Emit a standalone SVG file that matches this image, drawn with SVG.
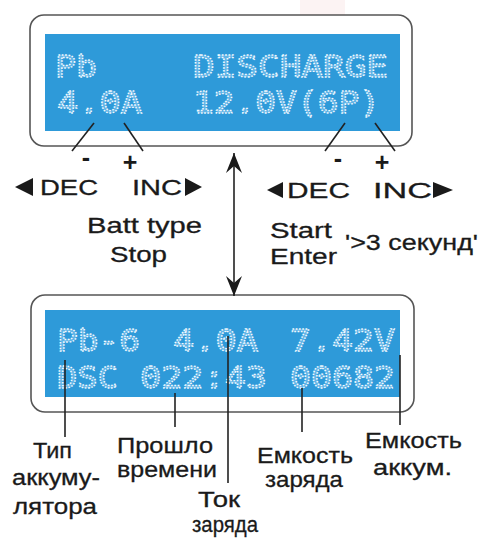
<svg xmlns="http://www.w3.org/2000/svg" width="483" height="539" viewBox="0 0 483 539">
<defs>
<style>
.frame{fill:#fff;stroke:#555;stroke-width:1.6}
.lcd{fill:#2e9ad9}
.lt{font-family:"DejaVu Sans Mono","Liberation Mono",monospace;font-size:31px;fill:#5fb3e6;stroke:#f2f9fe;stroke-width:1.4;stroke-dasharray:1.5 1.4}
.lbl{font-family:"Liberation Sans",Arial,sans-serif;font-size:22px;fill:#1a1a1a;stroke:#1a1a1a;stroke-width:0.3}
.key{font-family:"Liberation Sans",Arial,sans-serif;font-size:22px;fill:#1a1a1a;stroke:#1a1a1a;stroke-width:0.3}
.pm{font-family:"Liberation Sans",Arial,sans-serif;font-size:25px;font-weight:bold;fill:#1a1a1a;text-anchor:middle}
.ld{stroke:#222;stroke-width:1.6;fill:none}
.tri{fill:#1a1a1a}
</style>
<marker id="dart" viewBox="-22 -9 24 18" markerWidth="24" markerHeight="18" refX="0" refY="0" orient="auto-start-reverse" markerUnits="userSpaceOnUse">
<path d="M0,0 L-20,-8 L-13,0 L-20,8 Z" fill="#1a1a1a"/>
</marker>
</defs>
<rect x="300" y="0" width="45" height="70" fill="#fbeeee" opacity="0.7"/>
<g id="display-top">
<rect class="frame" x="30" y="15" width="382" height="131" rx="14"/>
<rect class="lcd" x="45" y="34" width="355" height="97"/>
<text class="lt" x="55" y="77" textLength="42" lengthAdjust="spacingAndGlyphs">Pb</text>
<text class="lt" x="193" y="77" textLength="195" lengthAdjust="spacingAndGlyphs">DISCHARGE</text>
<text class="lt" x="57" y="113" textLength="85" lengthAdjust="spacingAndGlyphs">4.0A</text>
<text class="lt" x="193" y="113" textLength="187" lengthAdjust="spacingAndGlyphs">12.0V(6P)</text>
</g>
<g id="display-bottom">
<rect class="frame" x="31" y="295" width="383" height="117" rx="14"/>
<rect class="lcd" x="45" y="310" width="355" height="87"/>
<text class="lt" x="57" y="351" textLength="83" lengthAdjust="spacingAndGlyphs">Pb-6</text>
<text class="lt" x="173" y="351" textLength="85" lengthAdjust="spacingAndGlyphs">4.0A</text>
<text class="lt" x="290" y="351" textLength="105" lengthAdjust="spacingAndGlyphs">7.42V</text>
<text class="lt" x="57" y="388" textLength="61" lengthAdjust="spacingAndGlyphs">DSC</text>
<text class="lt" x="140" y="388" textLength="127" lengthAdjust="spacingAndGlyphs">022:43</text>
<text class="lt" x="290" y="388" textLength="105" lengthAdjust="spacingAndGlyphs">00682</text>
</g>
<g id="connectors">
<line class="ld" x1="94" y1="123" x2="72" y2="151"/>
<line class="ld" x1="124" y1="123" x2="143" y2="151"/>
<line class="ld" x1="345" y1="123" x2="325" y2="151"/>
<line class="ld" x1="375" y1="123" x2="395" y2="151"/>
<line class="ld" x1="234" y1="153" x2="234" y2="296" marker-start="url(#dart)" marker-end="url(#dart)"/>
<line class="ld" x1="65" y1="360" x2="65" y2="437"/>
<line class="ld" x1="175" y1="393" x2="175" y2="427"/>
<line class="ld" x1="228" y1="336" x2="228" y2="483"/>
<line class="ld" x1="302" y1="388" x2="302" y2="432"/>
<line class="ld" x1="400" y1="355" x2="400" y2="425"/>
</g>
<g id="keys-left">
<text class="pm" x="86" y="166">-</text>
<text class="pm" x="130" y="171">+</text>
<polygon class="tri" points="15,187 33,178 33,196"/>
<text class="key" x="40" y="195" textLength="58" lengthAdjust="spacingAndGlyphs">DEC</text>
<text class="key" x="132" y="195" textLength="50" lengthAdjust="spacingAndGlyphs">INC</text>
<polygon class="tri" points="185,178 185,196 202,187"/>
<text class="lbl" x="87" y="233" textLength="115" lengthAdjust="spacingAndGlyphs">Batt type</text>
<text class="lbl" x="110" y="262" textLength="57" lengthAdjust="spacingAndGlyphs">Stop</text>
</g>
<g id="keys-right">
<text class="pm" x="338" y="167">-</text>
<text class="pm" x="382" y="171">+</text>
<polygon class="tri" points="267,190 283,182 283,198"/>
<text class="key" x="287" y="198" textLength="63" lengthAdjust="spacingAndGlyphs">DEC</text>
<text class="key" x="373" y="198" textLength="59" lengthAdjust="spacingAndGlyphs">INC</text>
<polygon class="tri" points="433,182 433,198 453,190"/>
<text class="lbl" x="270" y="238" textLength="62" lengthAdjust="spacingAndGlyphs">Start</text>
<text class="lbl" x="270" y="264" textLength="67" lengthAdjust="spacingAndGlyphs">Enter</text>
<text class="lbl" x="345" y="250" textLength="133" lengthAdjust="spacingAndGlyphs">'&gt;3 секунд'</text>
</g>
<g id="label-type">
<text class="lbl" x="33" y="458" textLength="39" lengthAdjust="spacingAndGlyphs">Тип</text>
<text class="lbl" x="12" y="485" textLength="88" lengthAdjust="spacingAndGlyphs">аккуму-</text>
<text class="lbl" x="13" y="514" textLength="84" lengthAdjust="spacingAndGlyphs">лятора</text>
</g>
<g id="label-time">
<text class="lbl" x="117" y="453" textLength="96" lengthAdjust="spacingAndGlyphs">Прошло</text>
<text class="lbl" x="117" y="477" textLength="100" lengthAdjust="spacingAndGlyphs">времени</text>
</g>
<g id="label-current">
<text class="lbl" x="198" y="507" textLength="42" lengthAdjust="spacingAndGlyphs">Ток</text>
<text class="lbl" x="192" y="532" textLength="66" lengthAdjust="spacingAndGlyphs">заряда</text>
</g>
<g id="label-charge">
<text class="lbl" x="257" y="463" textLength="96" lengthAdjust="spacingAndGlyphs">Емкость</text>
<text class="lbl" x="265" y="487" textLength="78" lengthAdjust="spacingAndGlyphs">заряда</text>
</g>
<g id="label-capacity">
<text class="lbl" x="365" y="448" textLength="97" lengthAdjust="spacingAndGlyphs">Емкость</text>
<text class="lbl" x="373" y="475" textLength="79" lengthAdjust="spacingAndGlyphs">аккум.</text>
</g>
</svg>
